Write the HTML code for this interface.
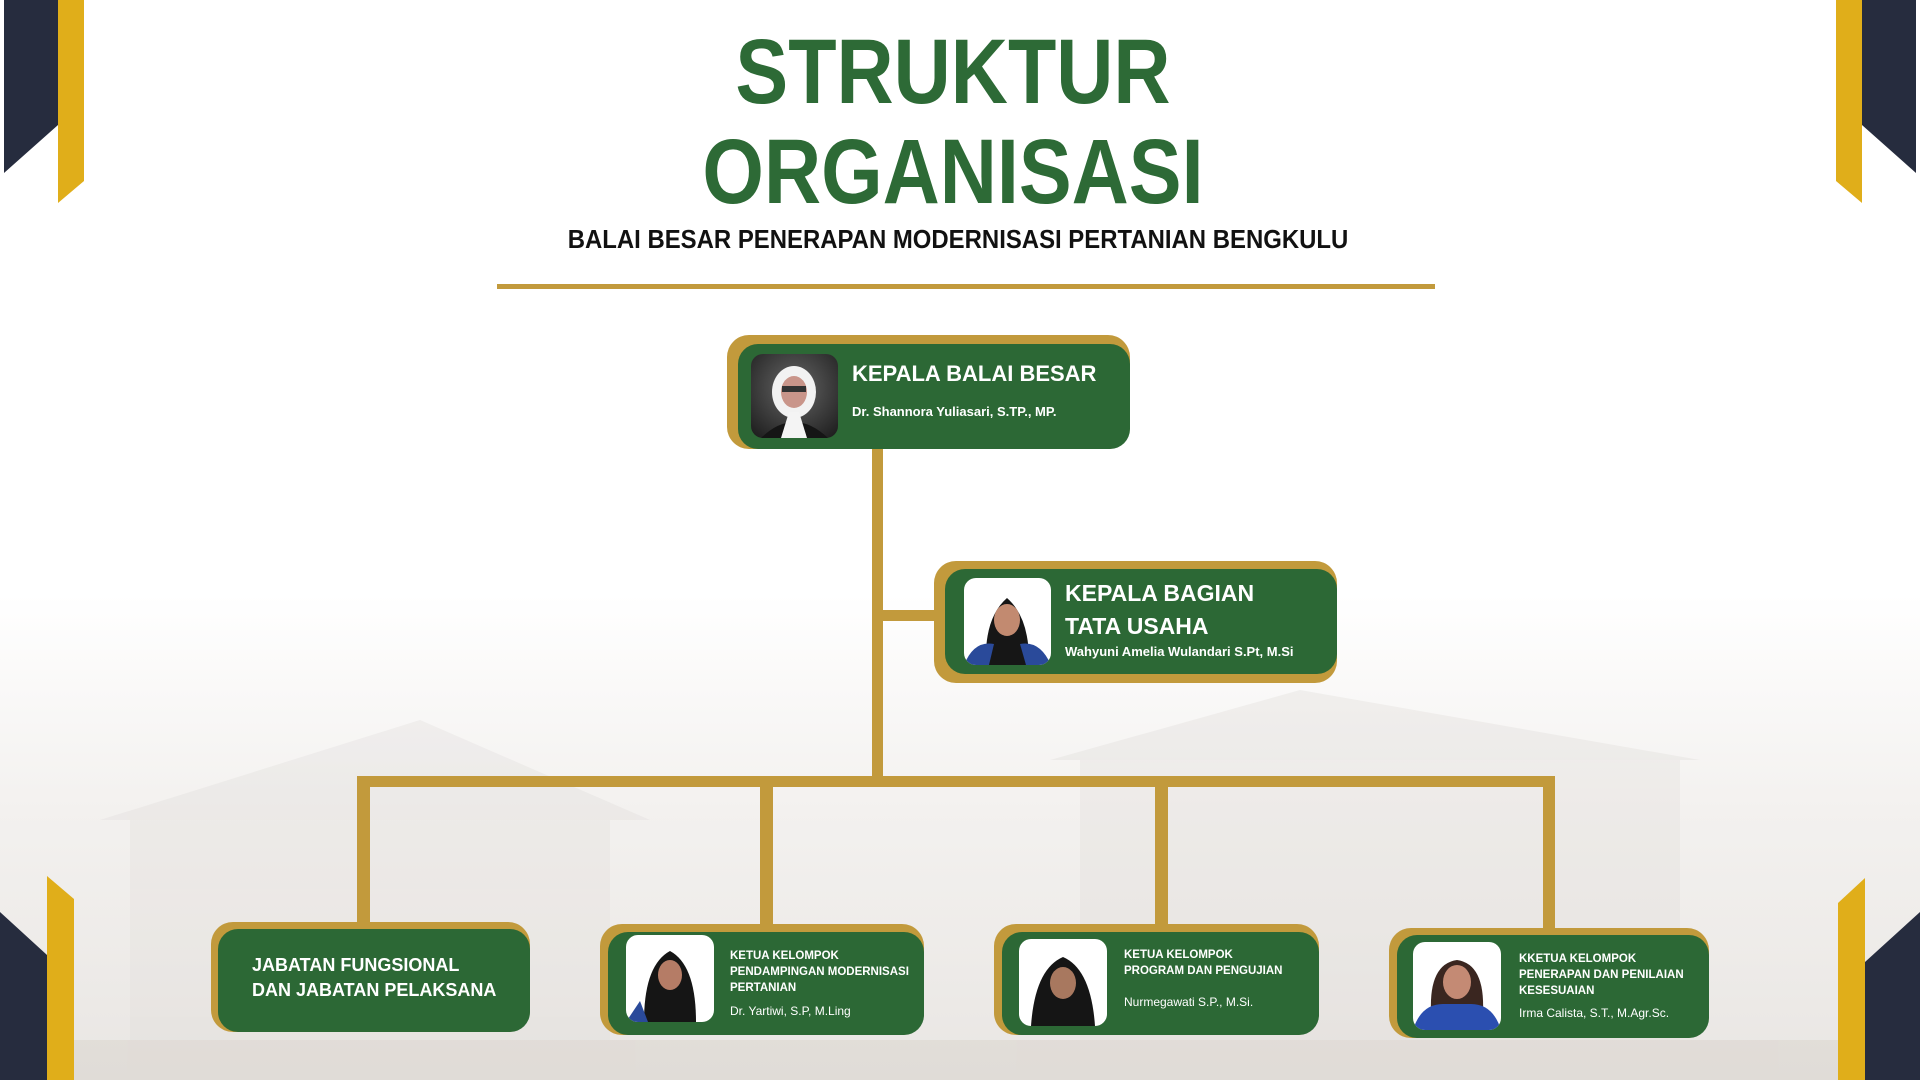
<!DOCTYPE html>
<html><head><meta charset="utf-8"><style>
body{margin:0;width:1920px;height:1080px;overflow:hidden;font-family:"Liberation Sans",sans-serif;}
#c{position:relative;width:1920px;height:1080px;background:linear-gradient(180deg,#fff 0%,#fff 55%,#f3f1ef 75%,#e9e6e3 100%);}
.a{position:absolute}
.gold{background:#c29a3c;border-radius:22px}
.grn{background:#2c6835;border-radius:20px;position:absolute}
.t{position:absolute;color:#fff;font-weight:bold;white-space:nowrap}
.ph{position:absolute;border-radius:12px;overflow:hidden}
</style></head><body><div id="c">
<svg class="a" style="left:0;top:0" width="1920" height="1080">
<g opacity="0.25">
<polygon points="100,820 420,720 650,820" fill="#d8d5d2"/>
<rect x="130" y="820" width="480" height="260" fill="#dedad6"/>
<polygon points="1050,760 1300,690 1700,760" fill="#d6d2ce"/>
<rect x="1080" y="760" width="600" height="320" fill="#dcd8d4"/>
<rect x="0" y="1040" width="1920" height="40" fill="#c9bfb4"/>
</g>
<polygon points="4,0 58,0 58,125 4,173" fill="#262c3e"/>
<polygon points="58,0 84,0 84,181 58,203" fill="#e0ae1a"/>
<polygon points="1916,0 1862,0 1862,125 1916,173" fill="#262c3e"/>
<polygon points="1862,0 1836,0 1836,181 1862,203" fill="#e0ae1a"/>
<polygon points="0,912 47,955 47,1080 0,1080" fill="#262c3e"/>
<polygon points="47,876 74,899 74,1080 47,1080" fill="#e0ae1a"/>
<polygon points="1920,912 1865,962 1865,1080 1920,1080" fill="#262c3e"/>
<polygon points="1865,878 1838,903 1838,1080 1865,1080" fill="#e0ae1a"/>
<g fill="#c29a3c">
<rect x="872" y="440" width="11" height="346"/>
<rect x="883" y="610" width="60" height="11"/>
<rect x="357" y="776" width="1198" height="11"/>
<rect x="357" y="776" width="13" height="150"/>
<rect x="760" y="776" width="13" height="150"/>
<rect x="1155" y="776" width="13" height="150"/>
<rect x="1543" y="776" width="12" height="154"/>
</g>
<rect x="497" y="284" width="938" height="5" fill="#c29a3c"/>
</svg>
<div class="a" style="left:0;width:1906px;top:22px;text-align:center;color:#2d6a36;font-weight:900;font-size:92px;line-height:100px;transform:scaleX(0.86);transform-origin:953px 0">STRUKTUR<br>ORGANISASI</div>
<div class="a" style="left:0;width:1916px;top:224px;text-align:center;color:#111;font-weight:bold;font-size:26px;transform:scaleX(0.92);transform-origin:958px 0">BALAI BESAR PENERAPAN MODERNISASI PERTANIAN BENGKULU</div>

<div class="a gold" style="left:727px;top:335px;width:403px;height:114px"></div>
<div class="grn" style="left:738px;top:344px;width:392px;height:105px"></div>
<div class="ph" style="left:751px;top:354px;width:87px;height:84px;background:radial-gradient(circle at 50% 40%,#666,#1a1a1a)"><svg width="87" height="84"><ellipse cx="43" cy="38" rx="22" ry="26" fill="#f2f2f2"/><ellipse cx="43" cy="38" rx="13" ry="16" fill="#c9958a"/><rect x="31" y="32" width="24" height="6" fill="#333"/><path d="M10 84 Q43 52 77 84Z" fill="#151515"/><path d="M30 84 L38 58 L48 58 L56 84Z" fill="#f4f4f4"/></svg></div>
<div class="t" style="left:852px;top:361px;font-size:22px">KEPALA BALAI BESAR</div>
<div class="t" style="left:852px;top:404px;font-size:13px">Dr. Shannora Yuliasari, S.TP., MP.</div>

<div class="a gold" style="left:934px;top:561px;width:403px;height:122px"></div>
<div class="grn" style="left:945px;top:569px;width:392px;height:105px"></div>
<div class="ph" style="left:964px;top:578px;width:87px;height:87px;background:#fff"><svg width="87" height="87"><path d="M22 87 Q20 40 43 20 Q66 40 65 87Z" fill="#161616"/><ellipse cx="43" cy="42" rx="13" ry="16" fill="#c28a70"/><path d="M0 87 Q10 62 30 66 L56 66 Q76 62 87 87Z" fill="#2a4a9a"/><path d="M25 87 L30 66 L56 66 L62 87Z" fill="#161616"/></svg></div>
<div class="t" style="left:1065px;top:577px;font-size:23px;line-height:33px">KEPALA BAGIAN<br>TATA USAHA</div>
<div class="t" style="left:1065px;top:644px;font-size:13px">Wahyuni Amelia Wulandari S.Pt, M.Si</div>

<div class="a gold" style="left:211px;top:922px;width:319px;height:110px"></div>
<div class="grn" style="left:218px;top:929px;width:312px;height:103px"></div>
<div class="t" style="left:252px;top:953px;font-size:18px;line-height:25px">JABATAN FUNGSIONAL<br>DAN JABATAN PELAKSANA</div>

<div class="a gold" style="left:600px;top:924px;width:324px;height:111px"></div>
<div class="grn" style="left:608px;top:932px;width:316px;height:103px"></div>
<div class="ph" style="left:626px;top:935px;width:88px;height:87px;background:#fff"><svg width="88" height="87"><path d="M18 87 Q18 30 44 16 Q70 30 70 87Z" fill="#151515"/><ellipse cx="44" cy="40" rx="12" ry="15" fill="#b57c66"/><path d="M0 87 L14 66 L22 87Z" fill="#2a4a9a"/></svg></div>
<div class="t" style="left:730px;top:948px;font-size:11.5px;line-height:16px">KETUA KELOMPOK<br>PENDAMPINGAN MODERNISASI<br>PERTANIAN</div>
<div class="t" style="left:730px;top:1004px;font-size:12px;font-weight:normal">Dr. Yartiwi, S.P, M.Ling</div>

<div class="a gold" style="left:994px;top:924px;width:325px;height:111px"></div>
<div class="grn" style="left:1002px;top:932px;width:317px;height:103px"></div>
<div class="ph" style="left:1019px;top:939px;width:88px;height:87px;background:#fff"><svg width="88" height="87"><path d="M12 87 Q16 30 44 18 Q72 30 76 87Z" fill="#151515"/><ellipse cx="44" cy="44" rx="13" ry="16" fill="#a8785f"/></svg></div>
<div class="t" style="left:1124px;top:947px;font-size:11.5px;line-height:16px">KETUA KELOMPOK<br>PROGRAM DAN PENGUJIAN</div>
<div class="t" style="left:1124px;top:995px;font-size:12px;font-weight:normal">Nurmegawati S.P., M.Si.</div>

<div class="a gold" style="left:1389px;top:928px;width:320px;height:110px"></div>
<div class="grn" style="left:1397px;top:935px;width:312px;height:103px"></div>
<div class="ph" style="left:1413px;top:942px;width:88px;height:88px;background:#fff"><svg width="88" height="88"><path d="M18 70 Q16 22 44 18 Q72 22 70 70Z" fill="#3a2620"/><ellipse cx="44" cy="40" rx="14" ry="17" fill="#c48a74"/><path d="M0 88 Q8 62 30 62 L58 62 Q80 62 88 88Z" fill="#2b4fb0"/></svg></div>
<div class="t" style="left:1519px;top:951px;font-size:11.5px;line-height:16px">KKETUA KELOMPOK<br>PENERAPAN DAN PENILAIAN<br>KESESUAIAN</div>
<div class="t" style="left:1519px;top:1006px;font-size:12px;font-weight:normal">Irma Calista, S.T., M.Agr.Sc.</div>
</div></body></html>
